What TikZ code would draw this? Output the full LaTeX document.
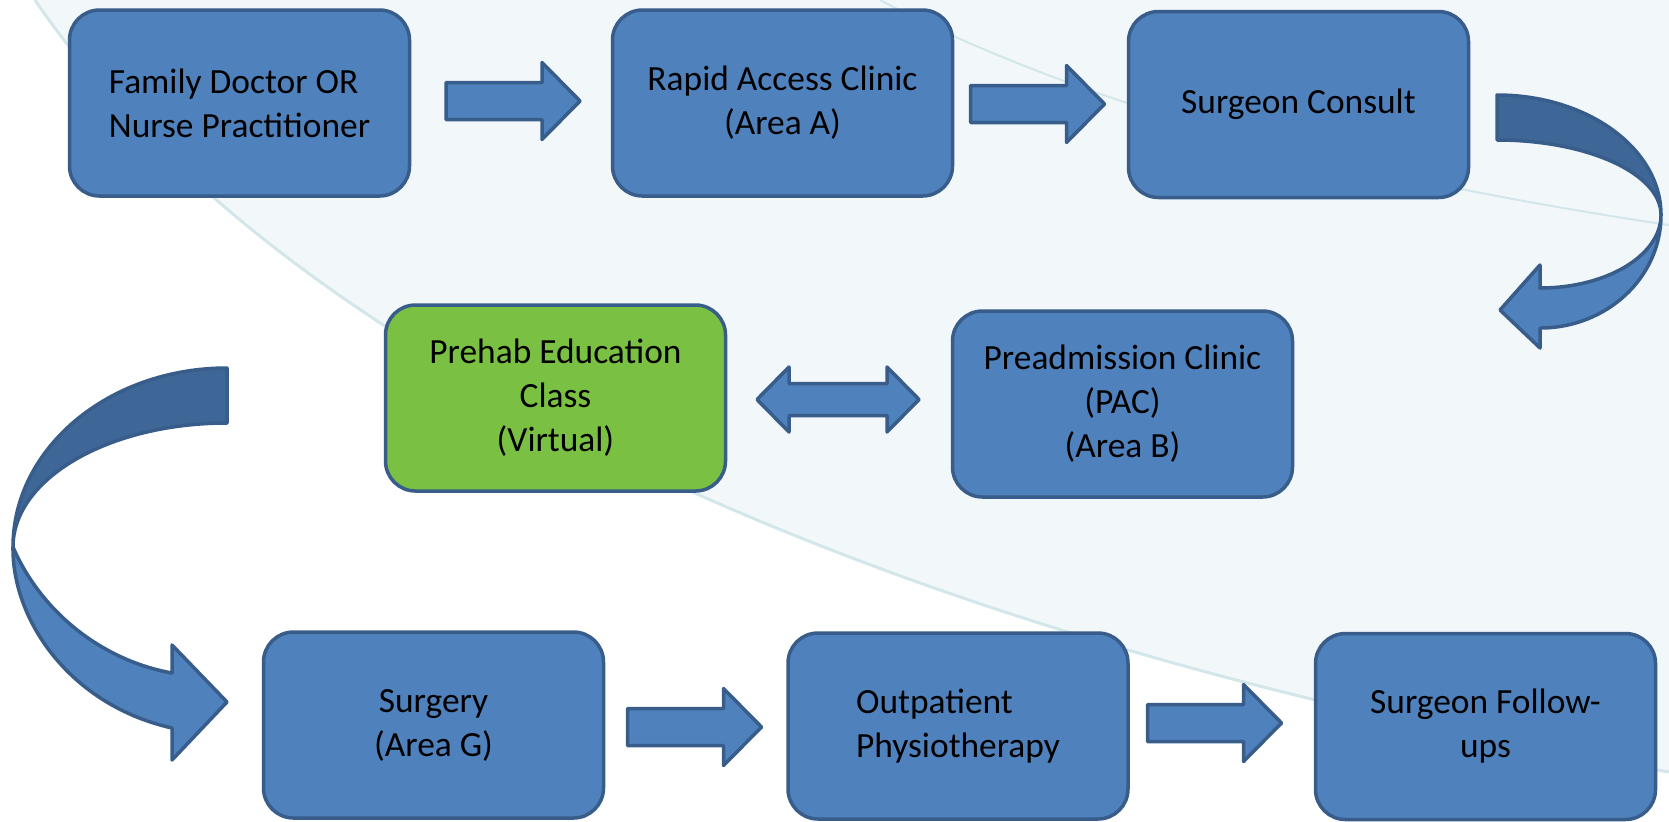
\documentclass[tikz,border=0pt]{standalone}
\usepackage{fontspec}
\setmainfont{Carlito}
\definecolor{boxblue}{HTML}{4F81BD}
\definecolor{boxline}{HTML}{385D8A}
\definecolor{boxgreen}{HTML}{7AC143}
\definecolor{backblue}{HTML}{3E6797}
\definecolor{bgtint}{HTML}{F2F7FA}
\definecolor{streak}{HTML}{D3E7EA}
\tikzset{
	stepbox/.style={draw=boxline,line width=1.75pt,fill=boxblue,rounded corners=15pt,minimum width=170pt,minimum height=93pt,align=center,font=\fontsize{17.7}{22}\selectfont},
	ribbon/.style={draw=boxline,line width=1.75pt,line join=round},
	rarrow/.pic={\filldraw[ribbon,fill=boxblue] (-67,-18.5) -- (29,-18.5) -- (29,-38.5) -- (67,0) -- (29,38.5) -- (29,18.5) -- (-67,18.5) -- cycle;},
	lrarrow/.pic={\filldraw[ribbon,fill=boxblue] (-81,0) -- (-49,-32.5) -- (-49,-16) -- (49,-16) -- (49,-32.5) -- (81,0) -- (49,32.5) -- (49,16) -- (-49,16) -- (-49,32.5) -- cycle;}
}
\begin{document}
\begin{tikzpicture}[x=0.5pt,y=-0.5pt]
		%背景
		\useasboundingbox (0,0) rectangle (1669,821);
		\fill[bgtint] (0,0) rectangle (1669,821);
		\fill[white] (0,0) -- (35,0) .. controls (280,360) and (880,640) .. (1669,772) -- (1669,821) -- (0,821) -- cycle;
		\draw[streak,line width=1.5pt] (35,0) .. controls (280,360) and (880,640) .. (1669,772);
		\draw[streak,line width=1pt] (880,0) .. controls (1050,90) and (1300,170) .. (1669,225);
		%流程框
		\draw (239.5,103) node[stepbox,align=left](s-1){Family Doctor OR\\Nurse Practitioner};
		\draw (782.5,103) node[stepbox](s-2){Rapid Access Clinic\\(Area A)};
		\draw (1298.5,104.5) node[stepbox](s-3){Surgeon Consult};
		\draw (1122.5,404) node[stepbox](s-4){Preadmission Clinic\\(PAC)\\(Area B)};
		\draw (555.5,398) node[stepbox,fill=boxgreen](s-5){Prehab Education\\Class\\(Virtual)};
		\draw (433.5,725) node[stepbox](s-6){Surgery\\(Area G)};
		\draw (958,726) node[stepbox,align=left](s-7){Outpatient\\Physiotherapy};
		\draw (1485.5,726.5) node[stepbox](s-8){Surgeon Follow-\\ups};
		%箭头
		\draw (513,101) pic{rarrow};
		\draw (1037.5,104) pic{rarrow};
		\draw (694.5,727) pic{rarrow};
		\draw (1214.5,723) pic{rarrow};
		\draw (838,399.5) pic{lrarrow};
		%弯箭头
		\filldraw[ribbon,fill=backblue] (1497,95) .. controls (1587.6,95) and (1661,148.7) .. (1661,215)
			.. controls (1661,173.6) and (1587.6,140) .. (1497,140) -- cycle;
		\filldraw[ribbon,fill=boxblue] (1661,215) .. controls (1661,277.4) and (1606.8,328) .. (1540,328)
			-- (1540,348) -- (1500,310) -- (1540,265) -- (1540,288)
			.. controls (1606.8,288) and (1661,255.3) .. (1661,215) -- cycle;
		\filldraw[ribbon,fill=backblue] (227,368) .. controls (108.8,368) and (13,448.1) .. (13,547)
			.. controls (13,478.5) and (108.8,423) .. (227,423) -- cycle;
		\filldraw[ribbon,fill=boxblue] (13,547) .. controls (12,620) and (70,705) .. (172,728)
			-- (172,760) -- (227,702) -- (172,645) -- (172,673)
			.. controls (100,660) and (40,610) .. (13,547) -- cycle;
	\end{tikzpicture}
\end{document}
